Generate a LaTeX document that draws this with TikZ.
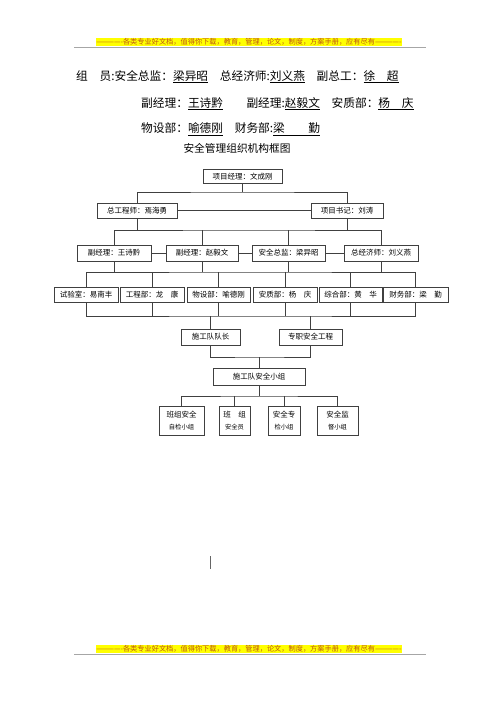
\documentclass[tikz,border=0pt]{standalone}
\usepackage{fontspec}
\setmainfont{Noto Sans CJK SC}
\usetikzlibrary{positioning}
\definecolor{hdrtext}{RGB}{190,85,20}
\definecolor{hdrfill}{RGB}{255,255,0}
\newcommand{\subline}[1]{{\fontsize{6.3}{7}\selectfont #1}}

\begin{document}
\begin{tikzpicture}[x=1pt,y=-1pt,
      font=\fontsize{7.5}{9}\selectfont,
      box/.style={draw=black!75,line width=0.6pt,minimum height=15pt,inner sep=0pt,align=center},
      link/.style={draw=black!75,line width=0.6pt},
      banner/.style={fill=hdrfill,text=hdrtext,inner sep=0pt,minimum height=8pt,font=\fontsize{7.2}{8}\selectfont},
      member/.style={anchor=base west,inner sep=0pt,font=\fontsize{11.7}{13}\selectfont}]
    \useasboundingbox (0,0) rectangle (500,707);
    % header and footer
    \node[banner] (hdr) at (249,41.5) {-------------各类专业好文档，值得你下载，教育，管理，论文，制度，方案手册，应有尽有-------------};
    \draw[gray!70,line width=0.9pt] (74,47) -- (426,47);
    \node[banner] (ftr) at (249,648.5) {-------------各类专业好文档，值得你下载，教育，管理，论文，制度，方案手册，应有尽有-------------};
    \draw[gray!70,line width=0.9pt] (74,654) -- (426,654);
    % members
    \node[member] (mem1) at (76,80) {组\hspace{1em}员:安全总监：\underline{梁异昭}\hspace{1em}总经济师:\underline{刘义燕}\hspace{1em}副总工：\underline{徐\hspace{1em}超}};
    \node[member] (mem2) at (141,107) {副经理：\underline{王诗黔}\hspace{2em}副经理:\underline{赵毅文}\hspace{1em}安质部：\underline{杨\hspace{1em}庆}};
    \node[member] (mem3) at (141,132.5) {物设部：\underline{喻德刚}\hspace{1em}财务部:\underline{梁\hspace{2em}勤}};
    \node[anchor=base,inner sep=0pt,font=\fontsize{10.7}{12}\selectfont] (title) at (237,152.5) {安全管理组织机构框图};
    % chart boxes
    \node[box,minimum width=79pt,minimum height=14pt] (pm) at (242.5,176.5) {项目经理：文成刚};
    \node[box,minimum width=80pt] (ce) at (137,210.5) {总工程师：焉海勇};
    \node[box,minimum width=72pt] (ps) at (347,210.5) {项目书记：刘涛};
    \node[box,minimum width=74pt,minimum height=16pt] (dm1) at (114,253) {副经理：王诗黔};
    \node[box,minimum width=72pt,minimum height=16pt] (dm2) at (202,253) {副经理：赵毅文};
    \node[box,minimum width=73pt,minimum height=16pt] (sd) at (288.5,253) {安全总监：梁异昭};
    \node[box,minimum width=74pt,minimum height=16pt] (ec) at (381,253) {总经济师：刘义燕};
    \node[box,minimum width=64pt] (lab) at (86,294.5) {试验室：易南丰};
    \node[box,minimum width=64pt] (eng) at (152,294.5) {工程部：龙\hspace{1em}康};
    \node[box,minimum width=63pt] (mat) at (218.5,294.5) {物设部：喻德刚};
    \node[box,minimum width=64pt] (qua) at (285,294.5) {安质部：杨\hspace{1em}庆};
    \node[box,minimum width=63pt] (gen) at (350.5,294.5) {综合部：黄\hspace{1em}华};
    \node[box,minimum width=65pt] (fin) at (415.5,294.5) {财务部：梁\hspace{1em}勤};
    \node[box,minimum width=59pt,minimum height=16pt] (tl) at (210.5,337) {施工队队长};
    \node[box,minimum width=63pt,minimum height=16pt] (se) at (310.5,337) {专职安全工程};
    \node[box,minimum width=92pt,minimum height=17pt] (sg) at (259,376.5) {施工队安全小组};
    \node[box,minimum width=45pt,minimum height=29pt] (g1) at (181.5,420.5) {班组安全\\[3pt]\subline{自检小组}};
    \node[box,minimum width=31pt,minimum height=29pt] (g2) at (234.5,420.5) {班\hspace{1em}组\\[3pt]\subline{安全员}};
    \node[box,minimum width=32pt,minimum height=29pt] (g3) at (284,420.5) {安全专\\[3pt]\subline{检小组}};
    \node[box,minimum width=41pt,minimum height=29pt] (g4) at (337.5,420.5) {安全监\\[3pt]\subline{督小组}};
    % bus lines
    \coordinate (bus1) at (242.5,192);
    \coordinate (bus2) at (250,230);
    \coordinate (bus3) at (250,272);
    \coordinate (bus4) at (250,316);
    \coordinate (bus5) at (259,357);
    \coordinate (bus6) at (259,396);
    \draw[link] (pm.south) -- (bus1);
    \draw[link] (ce.north) |- (bus1) -| (ps.north);
    \draw[link] (ce.east) -- (ps.west);
    \draw[link] (ce.south) -- (ce.south |- bus2);
    \draw[link] (ps.south) -- (ps.south |- bus2);
    \draw[link] (dm1.north) |- (bus2) -| (ec.north);
    \foreach \n in {dm2,sd}
      \draw[link] (\n.north) -- (\n.north |- bus2);
    \draw[link] (dm1.east) -- (dm2.west);
    \draw[link] (dm2.east) -- (sd.west);
    \draw[link] (sd.east) -- (ec.west);
    \foreach \n in {dm1,dm2,sd,ec}
      \draw[link] (\n.south) -- (\n.south |- bus3);
    \draw[link] (lab.north) |- (bus3) -| (fin.north);
    \draw[link] (lab.south) |- (bus4) -| (fin.south);
    \foreach \n in {eng,mat,qua,gen} {
      \draw[link] (\n.north) -- (\n.north |- bus3);
      \draw[link] (\n.south) -- (\n.south |- bus4);
    }
    \draw[link] (tl.north) -- (tl.north |- bus4);
    \draw[link] (se.north) -- (se.north |- bus4);
    \draw[link] (tl.south) |- (bus5) -| (se.south);
    \draw[link] (sg.north) -- (bus5);
    \draw[link] (sg.south) -- (bus6);
    \draw[link] (g1.north) |- (bus6) -| (g4.north);
    \draw[link] (g2.north) -- (g2.north |- bus6);
    \draw[link] (g3.north) -- (g3.north |- bus6);
    % cursor mark
    \draw[black!60,line width=0.6pt] (210,556) -- (210,569);
  \end{tikzpicture}
\end{document}
